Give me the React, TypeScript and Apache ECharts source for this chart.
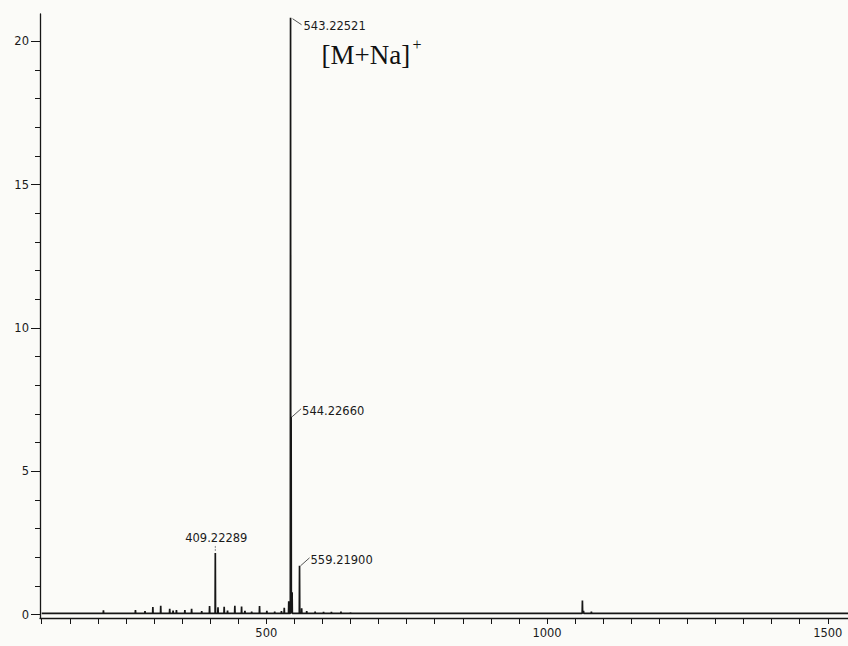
import React, { useEffect, useRef } from "react";
import * as echarts from "echarts";

// m/z range and intensity range of the plotted spectrum
const X_MIN = 97;
const X_MAX = 1536;
const Y_MIN = -0.12;
const Y_MAX = 20.95;

// baseline level of the trace
const BASELINE = 0.04;

// centroid peaks: m/z and top intensity
const peakMz = [
  210, 267, 284, 298, 312, 328, 334, 340, 355, 367, 385, 399, 409.22289, 414,
  425, 431, 444, 456, 462, 474, 488, 501, 515, 527, 532, 540, 543.22521,
  544.2266, 546, 559.219, 563, 572, 587, 602, 616, 633, 650, 668, 1063, 1065,
  1079,
];
const peakIntensity = [
  0.15, 0.16, 0.12, 0.26, 0.31, 0.2, 0.14, 0.16, 0.16, 0.2, 0.12, 0.3, 2.15,
  0.25, 0.27, 0.14, 0.31, 0.28, 0.13, 0.1, 0.3, 0.13, 0.1, 0.12, 0.24, 0.46,
  20.82, 6.9, 0.78, 1.7, 0.22, 0.12, 0.1, 0.09, 0.09, 0.1, 0.07, 0.06, 0.49,
  0.13, 0.1,
];

// peaks carrying an m/z annotation
const labelledMz = [409.22289, 543.22521, 544.2266, 559.219];

// axis ticks
const xMajorTicks = [500, 1000, 1500];
const xMinorTicks = Array.from({ length: 29 }, (_, i) => 100 + i * 50);
const yMajorTicks = [0, 5, 10, 15, 20];
const yMinorTicks = [1, 2, 3, 4, 6, 7, 8, 9, 11, 12, 13, 14, 16, 17, 18, 19];

const ADDUCT = "[M+Na]";

const AXIS_FONT = "DejaVu Sans";
const INK = "#161616";

function buildTrace(): [number, number][] {
  const half = 0.4;
  const pts: [number, number][] = [[100, BASELINE]];
  peakMz.forEach((mz, i) => {
    pts.push([mz - half, BASELINE]);
    pts.push([mz, peakIntensity[i]]);
    pts.push([mz + half, BASELINE]);
  });
  pts.push([X_MAX, BASELINE]);
  return pts;
}

export default function App() {
  const ref = useRef<HTMLDivElement>(null);

  useEffect(() => {
    if (!ref.current) return;
    const chart = echarts.init(ref.current, null, { renderer: "svg" });

    const labelStyle = {
      color: "#1a1a1a",
      fontFamily: AXIS_FONT,
      fontSize: 11.5,
      formatter: (v: number) => String(v),
    };

    chart.setOption({
      animation: false,
      backgroundColor: "#fbfbf8",
      grid: { left: 40, right: 0, top: 14, bottom: 28 },
      xAxis: {
        type: "value",
        min: X_MIN,
        max: X_MAX,
        axisLine: { onZero: false, lineStyle: { color: INK, width: 1.4 } },
        axisTick: {
          show: true,
          customValues: xMinorTicks,
          length: 6,
          lineStyle: { color: INK, width: 1 },
        },
        axisLabel: { customValues: xMajorTicks, margin: 9, ...labelStyle },
        splitLine: { show: false },
      },
      yAxis: [
        {
          type: "value",
          min: Y_MIN,
          max: Y_MAX,
          axisLine: { show: true, onZero: false, lineStyle: { color: INK, width: 1.3 } },
          axisTick: {
            show: true,
            customValues: yMinorTicks,
            length: 5,
            lineStyle: { color: INK, width: 1 },
          },
          axisLabel: { show: false },
          splitLine: { show: false },
        },
        {
          type: "value",
          min: Y_MIN,
          max: Y_MAX,
          position: "left",
          axisLine: { show: false, onZero: false },
          axisTick: {
            show: true,
            customValues: yMajorTicks,
            length: 9,
            lineStyle: { color: INK, width: 1 },
          },
          axisLabel: { customValues: yMajorTicks, margin: 11, ...labelStyle },
          splitLine: { show: false },
        },
      ],
      series: [
        {
          type: "line",
          xAxisIndex: 0,
          yAxisIndex: 0,
          data: buildTrace(),
          showSymbol: false,
          symbol: "none",
          lineStyle: { color: INK, width: 1.7 },
          silent: true,
        },
      ],
    });

    const toPx = (mz: number, v: number) =>
      chart.convertToPixel({ xAxisIndex: 0, yAxisIndex: 0 }, [mz, v]) as number[];

    const textStyle = (text: string, align: string) => ({
      text,
      fill: "#1a1a1a",
      fontFamily: AXIS_FONT,
      fontSize: 11.5,
      align,
      verticalAlign: "middle",
    });
    const leader = { stroke: "#555", lineWidth: 1 };

    const graphics: any[] = [];
    labelledMz.forEach((mz) => {
      const v = peakIntensity[peakMz.indexOf(mz)];
      const [x, y] = toPx(mz, v);
      const text = mz.toFixed(5);
      if (mz < 450) {
        graphics.push({
          type: "line",
          shape: { x1: x, y1: y - 2, x2: x, y2: y - 8 },
          style: { ...leader, stroke: "#888", lineDash: [2, 1] },
        });
        graphics.push({ type: "text", x: x + 1, y: y - 15, style: textStyle(text, "center") });
      } else if (mz < 544) {
        graphics.push({
          type: "line",
          shape: { x1: x + 2, y1: y + 1, x2: x + 11, y2: y + 7 },
          style: leader,
        });
        graphics.push({ type: "text", x: x + 13, y: y + 8, style: textStyle(text, "left") });
        // adduct annotation next to the base peak
        graphics.push({
          type: "text",
          x: x + 31,
          y: y + 37,
          style: {
            text: ADDUCT,
            fill: "#111",
            fontFamily: "Liberation Serif",
            fontSize: 27,
            align: "left",
            verticalAlign: "middle",
          },
        });
        graphics.push({
          type: "text",
          x: x + 122,
          y: y + 27,
          style: {
            text: "+",
            fill: "#111",
            fontFamily: "Liberation Serif",
            fontSize: 16,
            align: "left",
            verticalAlign: "middle",
          },
        });
      } else {
        graphics.push({
          type: "line",
          shape: { x1: x + 1, y1: y, x2: x + 10, y2: y - 8 },
          style: leader,
        });
        graphics.push({ type: "text", x: x + 11, y: y - 6, style: textStyle(text, "left") });
      }
    });

    chart.setOption({ graphic: graphics });

    return () => chart.dispose();
  }, []);

  return (
    <div
      ref={ref}
      style={{ position: "absolute", left: 0, top: 0, width: 848, height: 646 }}
    />
  );
}
